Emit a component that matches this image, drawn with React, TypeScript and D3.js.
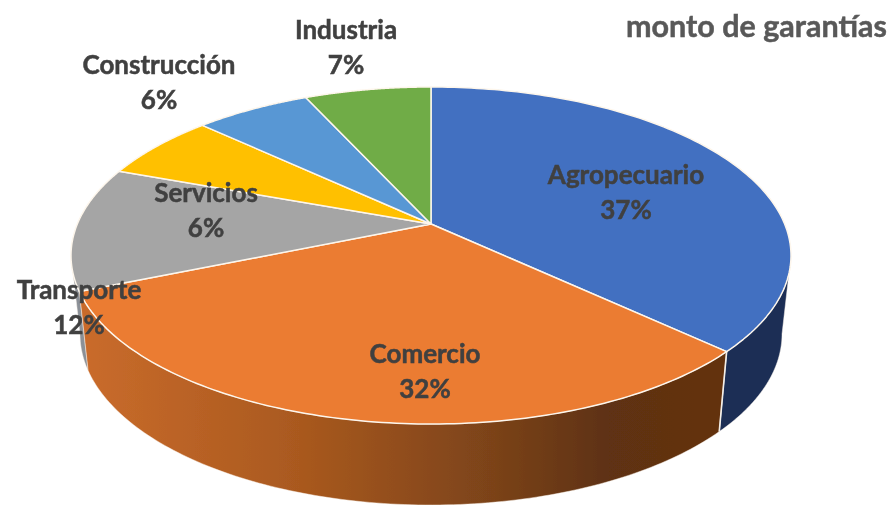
import React from "react";
import * as d3 from "d3";

const categories = ["Agropecuario", "Comercio", "Transporte", "Servicios", "Construcción", "Industria"];
const shares = [37, 31.7, 11.9, 6.4, 6.2, 6.8];
const chartTitle = "monto de garantías";

const sliceColors = ["#4270c1", "#eb7b30", "#a5a5a5", "#ffc000", "#5997d4", "#6fac46"];
const labelCenters: [number, number][] = [
  [626, 184],
  [425, 363],
  [79, 299],
  [206, 202],
  [159, 74],
  [346, 39],
];

const W = 892;
const H = 505;
const cx = 431;
const apexY = 224;
const farY = 87;
const nearY = 424;
const halfWidth = 360;

// Perspective projection of the pie's circular top face
const persp = Math.abs((apexY * 2 - farY - nearY) / (farY - nearY));
const py = farY * (1 + persp) - apexY;
const sx = halfWidth * Math.sqrt(1 - persp * persp);

const topPoint = (t: number): [number, number] => {
  const u = Math.sin(t);
  const v = Math.cos(t);
  const d = 1 + persp * v;
  return [cx + (sx * u) / d, (py * v + apexY) / d];
};

// Bottom rim of the side wall
const wallScaleX = 0.975;
const wallScaleY = 1.015;
const topEllipseCy = 255.5;
const bottomCy = 334;
const bottomPoint = (t: number): [number, number] => {
  const [x, y] = topPoint(t);
  return [cx + (x - cx) * wallScaleX, bottomCy + (y - topEllipseCy) * wallScaleY];
};

const rad = (deg: number) => (deg * Math.PI) / 180;
const line = d3.line<[number, number]>().curve(d3.curveLinear);
const arcAngles = (t0: number, t1: number) => d3.range(0, 121).map((i) => t0 + ((t1 - t0) * i) / 120);

const pie = d3.pie<number>().sort(null).value((d) => d);
const arcs = pie(shares);

const slicePath = (t0: number, t1: number) => {
  const pts = arcAngles(t0, t1).map(topPoint);
  return line([[cx, apexY], ...pts])! + "Z";
};
const wallPath = (t0: number, t1: number) => {
  const ts = arcAngles(t0, t1);
  return line([...ts.map(topPoint), ...ts.slice().reverse().map(bottomPoint)])! + "Z";
};

const tangent = rad(100.8);
const walls = [
  { key: "blue", t0: tangent, t1: arcs[0].endAngle, fill: "#1a2d55" },
  { key: "gray", t0: arcs[2].startAngle, t1: 2 * Math.PI - tangent, fill: "#8b9097" },
  { key: "orange", t0: arcs[1].startAngle, t1: arcs[1].endAngle, fill: "url(#wallOrange)" },
];

export default function App() {
  return (
    <svg
      width={W}
      height={H}
      viewBox={`0 0 ${W} ${H}`}
      style={{ position: "absolute", left: 0, top: 0, background: "#fff" }}
      fontFamily="Lato, 'Open Sans', sans-serif"
      fontWeight={700}
    >
      <defs>
        <linearGradient id="wallOrange" gradientUnits="userSpaceOnUse" x1={85} y1={0} x2={720} y2={0}>
          <stop offset="0" stopColor="#c96b2b" />
          <stop offset="0.34" stopColor="#a9591f" />
          <stop offset="0.65" stopColor="#7a4219" />
          <stop offset="0.82" stopColor="#5f3212" />
          <stop offset="1" stopColor="#643310" />
        </linearGradient>
        <filter id="soft" x="0" y="0" width="100%" height="100%">
          <feGaussianBlur stdDeviation="0.45" />
        </filter>
      </defs>
      <g filter="url(#soft)">
        {walls.map((w) => (
          <path key={w.key} d={wallPath(w.t0, w.t1)} fill={w.fill} stroke="#fbf3ea" strokeWidth={0.8} strokeOpacity={0.6} />
        ))}
        <path
          d={line([topPoint(arcs[0].endAngle), bottomPoint(arcs[0].endAngle)])!}
          stroke="#f4efe8"
          strokeWidth={1.6}
          fill="none"
        />
        {arcs.map((arc, i) => (
          <path
            key={categories[i]}
            d={slicePath(arc.startAngle, arc.endAngle)}
            fill={sliceColors[i]}
            stroke="#fdf6ec"
            strokeWidth={1.5}
            strokeLinejoin="round"
          />
        ))}
        {categories.map((name, i) => (
          <text
            key={name}
            x={labelCenters[i][0]}
            y={labelCenters[i][1]}
            textAnchor="middle"
            fontSize={26}
            fill="#404040"
            stroke="#404040"
            strokeWidth={0.5}
          >
            <tspan x={labelCenters[i][0]}>{name}</tspan>
            <tspan x={labelCenters[i][0]} dy={35}>{`${Math.round(shares[i])}%`}</tspan>
          </text>
        ))}
        <text x={887} y={37} textAnchor="end" fontSize={30.5} fill="#595959" stroke="#595959" strokeWidth={0.5}>
          {chartTitle}
        </text>
      </g>
    </svg>
  );
}
